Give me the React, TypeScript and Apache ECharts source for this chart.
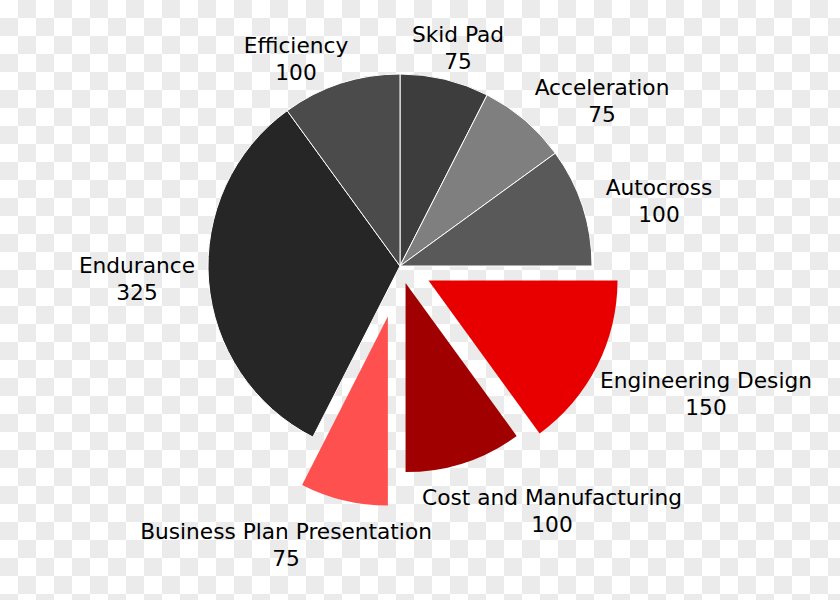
import React, { useEffect, useRef } from 'react';
import * as echarts from 'echarts';

// ---- data ----
const categories = [
  'Skid Pad',
  'Acceleration',
  'Autocross',
  'Engineering Design',
  'Cost and Manufacturing',
  'Business Plan Presentation',
  'Endurance',
  'Efficiency',
];
const points = [75, 75, 100, 150, 100, 75, 325, 100];

// ---- styling (not data) ----
const sliceColors = ['#3d3d3d', '#7f7f7f', '#595959', '#e80000', '#a00000', '#ff5050', '#262626', '#4b4b4b'];
const explodeOffsets = [0, 0, 0, 32, 18, 52, 0, 0];
const labelCenters: [number, number][] = [
  [458, 48], [602, 101], [659, 201], [706, 394], [552, 511], [286, 545], [137, 279], [296, 59],
];

const W = 840;
const H = 600;
const CELL = 18;
const CENTER: [number, number] = [400, 266];
const FONT = 'DejaVu Sans, Verdana, sans-serif';
const CHECK = '#ebebeb';

export default function App() {
  const ref = useRef<HTMLDivElement>(null);
  useEffect(() => {
    if (!ref.current) return;
    const chart = echarts.init(ref.current, null, { renderer: 'svg' });

    // transparency checkerboard behind the chart
    const checker: any[] = [];
    for (let r = 0; r * CELL < H; r++) {
      for (let c = 0; c * CELL < W; c++) {
        if ((r + c) % 2 === 1) {
          checker.push({
            type: 'rect',
            silent: true,
            shape: { x: c * CELL, y: r * CELL, width: CELL, height: CELL },
            style: { fill: CHECK },
          });
        }
      }
    }

    const mainData = categories.map((name, i) => {
      const exploded = explodeOffsets[i] > 0;
      return {
        name,
        value: points[i],
        itemStyle: exploded
          ? { color: 'rgba(0,0,0,0)', borderWidth: 0 }
          : { color: sliceColors[i], borderColor: '#ffffff', borderWidth: 1 },
      };
    });

    const explodedSeries = categories
      .map((_, idx) => idx)
      .filter((idx) => explodeOffsets[idx] > 0)
      .map((idx) => ({
        type: 'pie',
        center: CENTER,
        radius: [0, 189],
        startAngle: 90,
        clockwise: true,
        selectedMode: 'multiple',
        selectedOffset: explodeOffsets[idx],
        silent: true,
        z: 3,
        label: { show: false },
        labelLine: { show: false },
        emphasis: { disabled: true },
        data: categories.map((name, i) =>
          i === idx
            ? {
                name,
                value: points[i],
                selected: true,
                itemStyle: { color: sliceColors[i], borderWidth: 0 },
                select: { itemStyle: { color: sliceColors[i], borderWidth: 0 } },
              }
            : {
                name,
                value: points[i],
                itemStyle: { color: 'rgba(0,0,0,0)', borderWidth: 0 },
              }
        ),
      }));

    chart.setOption({
      animation: false,
      graphic: {
        elements: [
          { type: 'group', silent: true, z: -10, children: checker },
        ],
      },
      series: [
        {
          type: 'pie',
          center: CENTER,
          radius: [0, 192],
          startAngle: 90,
          clockwise: true,
          silent: true,
          z: 2,
          avoidLabelOverlap: false,
          emphasis: { disabled: true },
          label: {
            show: true,
            position: 'outside',
            formatter: (p: any) => `${p.name}\n${p.value}`,
            fontFamily: FONT,
            fontSize: 21.7,
            lineHeight: 27,
            color: '#000000',
            align: 'center',
          },
          labelLine: { show: false },
          labelLayout: (params: any) => {
            const c = labelCenters[params.dataIndex];
            return { x: c[0], y: c[1], align: 'center', verticalAlign: 'middle' };
          },
          data: mainData,
        },
        ...explodedSeries,
      ],
    } as any);

    return () => chart.dispose();
  }, []);

  return (
    <div style={{ position: 'fixed', left: 0, top: 0, width: W, height: H, backgroundColor: '#ffffff' }}>
      <div ref={ref} style={{ width: W, height: H }} />
    </div>
  );
}
